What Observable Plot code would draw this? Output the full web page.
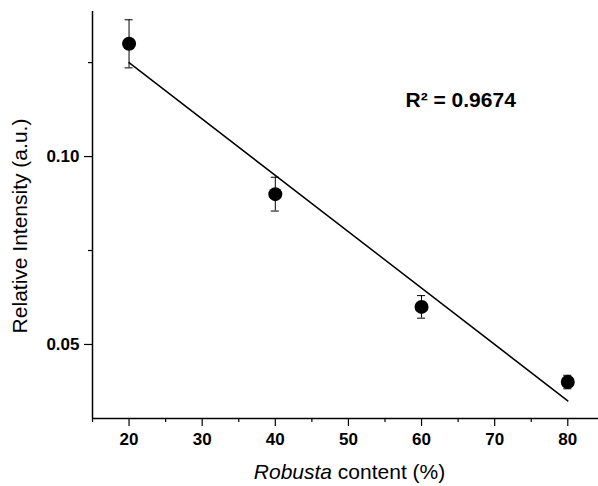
<!DOCTYPE html>
<html>
<head>
<meta charset="utf-8">
<script src="https://cdn.jsdelivr.net/npm/d3@7"></script>
<script src="https://cdn.jsdelivr.net/npm/@observablehq/plot@0.6"></script>
<style>
  html, body { margin: 0; padding: 0; background: #fff; }
  svg { font-family: "Liberation Sans", Arial, sans-serif; }
</style>
</head>
<body>
<div id="chart"></div>
<script>
// Data
const robusta = [20, 40, 60, 80];
const intensity = [0.130, 0.090, 0.060, 0.040];
const errors = [0.0064, 0.0045, 0.0030, 0.0018];
const xMajorTicks = [20, 30, 40, 50, 60, 70, 80];
const xMinorTicks = [15, 25, 35, 45, 55, 65, 75];
const yMajorTicks = [0.05, 0.10];
const yMinorTicks = [0.075, 0.125];
const rSquared = "0.9674";
const xDomain = [15, 84.2];
const yDomain = [0.0303, 0.1386];

const data = robusta.map((x, i) => ({x, y: intensity[i], e: errors[i]}));
const capHalf = 0.55;

const chart = Plot.plot({
  width: 598,
  height: 486,
  marginLeft: 92,
  marginRight: 0,
  marginTop: 11,
  marginBottom: 68,
  style: {fontFamily: "Liberation Sans, Arial, sans-serif", color: "#000", background: "#fff"},
  x: {domain: xDomain},
  y: {domain: yDomain},
  marks: [
    Plot.ruleX([xDomain[0]], {stroke: "#000", strokeWidth: 1.5}),
    Plot.ruleY([yDomain[0]], {stroke: "#000", strokeWidth: 1.5}),
    Plot.axisX(xMajorTicks, {tickSize: 8, tickPadding: 6, tickFormat: d => String(d),
      label: "Robusta content (%)", labelAnchor: "center", labelOffset: 60, labelArrow: "none", strokeWidth: 1.2}),
    Plot.axisX(xMinorTicks, {tickSize: 4, tickFormat: () => "", label: null, strokeWidth: 1.2}),
    Plot.axisY(yMajorTicks, {tickSize: 8, tickPadding: 5, tickFormat: d => d.toFixed(2),
      label: "Relative Intensity (a.u.)", labelAnchor: "center", labelOffset: 80, labelArrow: "none", strokeWidth: 1.2}),
    Plot.axisY(yMinorTicks, {tickSize: 4, tickFormat: () => "", label: null, strokeWidth: 1.2}),
    Plot.linearRegressionY(data, {x: "x", y: "y", stroke: "#000", strokeWidth: 1.5, ci: 0}),
    Plot.ruleX(data, {x: "x", y1: d => d.y - d.e, y2: d => d.y + d.e, stroke: "#000", strokeWidth: 1}),
    Plot.ruleY(data, {y: d => d.y - d.e, x1: d => d.x - capHalf, x2: d => d.x + capHalf, stroke: "#000", strokeWidth: 1}),
    Plot.ruleY(data, {y: d => d.y + d.e, x1: d => d.x - capHalf, x2: d => d.x + capHalf, stroke: "#000", strokeWidth: 1}),
    Plot.dot(data, {x: "x", y: "y", r: 7, fill: "#000"}),
    Plot.text([rSquared], {frameAnchor: "top-left", dx: 313, dy: 81, textAnchor: "start",
      text: d => `R² = ${d}`, fontSize: 21, fontWeight: "bold", fill: "#000"})
  ]
});

document.getElementById("chart").appendChild(chart);

const svg = d3.select(chart);
// Tick labels (numeric texts)
svg.selectAll("text").each(function() {
  const t = this.textContent.trim();
  if (/^[0-9.]+$/.test(t)) {
    d3.select(this).style("font-size", "17px").style("font-weight", "bold");
  }
});
// Axis labels; italicize "Robusta"
svg.selectAll('g[aria-label="x-axis label"] text, g[aria-label="y-axis label"] text')
  .style("font-size", "21px").style("font-weight", "normal");
function shift(sel, dx, dy) {
  const g = svg.select(sel);
  if (g.empty()) return;
  const old = g.attr("transform") || "";
  g.attr("transform", `translate(${dx},${dy}) ${old}`);
}
shift('g[aria-label="y-axis label"]', 0, 11);
shift('g[aria-label="x-axis label"]', 4, 0);
const xl = svg.select('g[aria-label="x-axis label"] text');
if (!xl.empty()) {
  xl.text(null);
  xl.append("tspan").attr("font-style", "italic").text("Robusta");
  xl.append("tspan").text(" content (%)");
}
</script>
</body>
</html>
